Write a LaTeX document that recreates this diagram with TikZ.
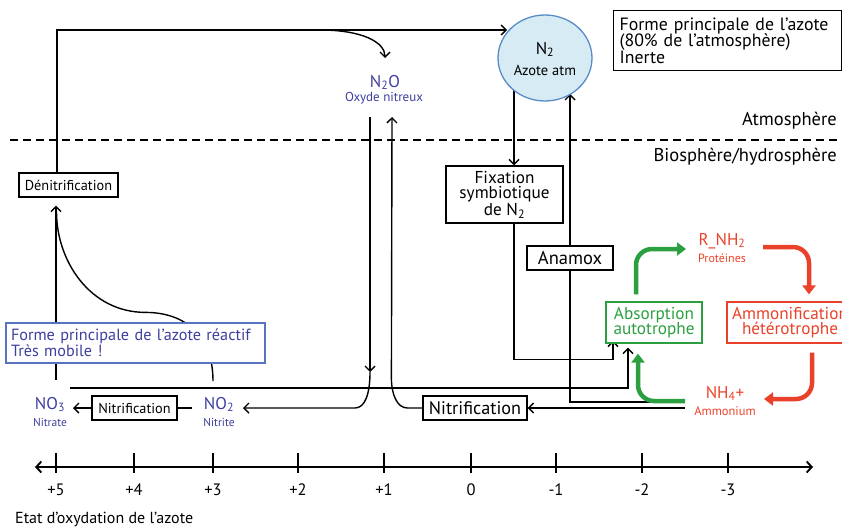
\documentclass[tikz,border=0pt]{standalone}
\usepackage{fontspec}
\setmainfont{PT Sans}
\usetikzlibrary{arrows.meta,calc,shapes.geometric}
\pgfdeclarelayer{bg}
\pgfsetlayers{bg,main}
\definecolor{nblue}{RGB}{62,62,160}
\definecolor{bbord}{RGB}{88,114,196}
\definecolor{gr}{RGB}{44,160,64}
\definecolor{rd}{RGB}{234,66,42}
\definecolor{cfill}{RGB}{214,235,243}
\definecolor{cbord}{RGB}{88,140,200}
\tikzset{
  fa/.style={font=\fontsize{17}{15}\selectfont},
  fb/.style={font=\fontsize{18.5}{16.5}\selectfont},
  fc/.style={font=\fontsize{14.3}{14}\selectfont},
  fd/.style={font=\fontsize{11.5}{12}\selectfont},
  ftick/.style={font=\fontsize{16.5}{16}\selectfont},
  box/.style={draw, line width=1.2pt, fill=white, inner sep=0pt},
  line/.style={line width=1.4pt},
  arr/.style={line width=1.4pt, -{Straight Barb[length=5pt,width=10pt]}},
  barr/.style={line width=1.9pt, {Straight Barb[length=5pt,width=11pt]}-{Straight Barb[length=5pt,width=11pt]}},
  garr/.style={draw=gr, line width=4.5pt, rounded corners=16pt, -{Triangle[length=9pt,width=13pt]}},
  rarr/.style={draw=rd, line width=4.5pt, rounded corners=16pt, -{Triangle[length=9pt,width=13pt]}},
}
\begin{document}
\begin{tikzpicture}[x=1pt,y=-1pt]
\useasboundingbox (0,0) rectangle (842,527);
\clip (0,0) rectangle (842,527);

% atmosphere / biosphere boundary
\draw[line width=1.4pt, dash pattern=on 8pt off 5pt] (10,140) -- (838,140);
\node[fb, anchor=east, inner xsep=0pt] (atm) at (837,121) {Atmosphère};
\node[fb, anchor=east, inner xsep=0pt] (bio) at (837,157) {Biosphère/hydrosphère};

% dinitrogen reservoir
\node[ellipse, draw=cbord, fill=cfill, line width=1.3pt, minimum width=94pt, minimum height=86pt, inner sep=0pt] (n2) at (545,58) {};
\node[fa, anchor=base] (n2f) at (545,54) {N\textsubscript{2}};
\node[font=\fontsize{14.5}{14}\selectfont, anchor=base] (n2n) at (545,75) {Azote atm};
\node[box, anchor=north west, text width=216pt, align=left, minimum height=60pt, inner xsep=6pt, font=\fontsize{17.8}{16.5}\selectfont] (info) at (613,10) {Forme principale de l’azote\\(80\% de l’atmosphère)\\Inerte};

% nitrogen species
\node[fa, nblue, anchor=base] (n2o) at (385,87) {N\textsubscript{2}O};
\node[font=\fontsize{13}{13}\selectfont, nblue, anchor=base] (n2on) at (384,101) {Oxyde nitreux};
\node[fa, nblue, anchor=base] (no3) at (50,409) {NO\textsubscript{3}};
\node[fd, nblue, anchor=base] (no3n) at (50,426) {Nitrate};
\node[fa, nblue, anchor=base] (no2) at (219,409) {NO\textsubscript{2}};
\node[fd, nblue, anchor=base] (no2n) at (219,426) {Nitrite};
\node[fa, rd, anchor=base] (rnh2) at (722,245) {R\_NH\textsubscript{2}};
\node[font=\fontsize{12}{12}\selectfont, rd, anchor=base] (rnh2n) at (722,262) {Protéines};
\node[fa, rd, anchor=base] (nh4) at (725,398) {NH\textsubscript{4}+};
\node[font=\fontsize{12.5}{12}\selectfont, rd, anchor=base] (nh4n) at (725,415) {Ammonium};

% process boxes
\node[box, fc, minimum width=99pt, minimum height=24pt] (den) at (68.5,185) {Dénitrification};
\node[box, minimum width=117pt, minimum height=57pt, align=center, font=\fontsize{17.2}{15.5}\selectfont] (fix) at (504.5,194.5) {Fixation\\symbiotique\\de N\textsubscript{2}};
\node[box, fb, minimum width=86pt, minimum height=24pt] (anamox) at (570,258) {Anamox};
\node[box, draw=gr, text=gr, minimum width=96pt, minimum height=41pt, align=center, font=\fontsize{17.2}{15.5}\selectfont] (absorb) at (654,322.5) {Absorption\\autotrophe};
\node[box, draw=rd, text=rd, minimum width=126pt, minimum height=41pt, align=center, font=\fontsize{17.2}{15.5}\selectfont] (ammon) at (790,322.5) {Ammonification\\hétérotrophe};
\node[box, fc, minimum width=85pt, minimum height=24pt] (nits) at (134.5,408) {Nitrification};
\node[box, minimum width=104pt, minimum height=24pt, font=\fontsize{18.2}{16}\selectfont] (nitb) at (475,408) {Nitrification};
\node[draw=bbord, fill=white, line width=1.2pt, minimum width=259pt, minimum height=40pt, text width=249pt, inner xsep=5pt, align=left, text=nblue, font=\fontsize{16.2}{14.5}\selectfont] (react) at (135.5,343) {Forme principale de l’azote réactif\\Très mobile !};

\begin{pgfonlayer}{bg}
% denitrification: up and over to the atmosphere
\draw[arr] ([xshift=-11.5pt]den.north) |- ($(n2.center)+(-38,-28)$);
\draw[arr] ($(n2.center)+(-225,-28)$) .. controls +(42,0) and +(0,-16) .. ($(n2o.base)+(0,-29)$);
% nitrate and nitrite feeding denitrification
\draw[arr] ($(no3.base)+(6,-29)$) -- ($(den.south)+(-12.5,8)$);
\draw[line] ($(no2.base)+(-6,-28)$) .. controls +(0,-45) and +(40,0) .. ($(react.north)+(10,-10)$) .. controls +(-55,0) and +(0,50) .. ($(den.south)+(-12,14)$);
% nitrification chain
\draw[line] ($(no2.base)+(-27,-1)$) -- (nits.east);
\draw[arr] (nits.west) -- ($(no3.base)+(23,-1)$);
\draw[arr] ($(nh4.base)+(-40,10)$) -- (nitb.east);
\draw[arr] (nitb.west) -- ++(-15,0) .. controls +(-10,0) and +(0,17) .. ++(-16,-30) -- ($(n2o.base)+(7,30)$);
\draw[arr] ($(n2o.base)+(-15,30)$) -- ++(0,255) coordinate (dl);
\draw[arr] (dl) .. controls +(0,22) and +(10,0) .. ++(-15,36) -- ($(no2.base)+(24,-1)$);
% fixation and anammox
\draw[arr] ($(n2.center)+(-31,32)$) -- ([xshift=9.5pt]fix.north);
\draw[arr] ([xshift=9.5pt]fix.south) -- ++(0,136) -| ($(absorb.south)+(-41,-3)$);
\draw[arr] ($(nh4.base)+(-40,4)$) -| (anamox.center) -- ($(n2.center)+(25,36)$);
% nitrate uptake
\draw[arr] ($(no3.base)+(20,-21)$) -| ($(absorb.south)+(-26,4)$);
\end{pgfonlayer}

% organic nitrogen cycle
\draw[garr] ($(nh4.base)+(-40,3)$) -| ($(absorb.south)+(-16,10)$);
\draw[garr] ($(absorb.north)+(-18,-7)$) |- ($(rnh2.base)+(-36,4)$);
\draw[rarr] ($(rnh2.base)+(41,2)$) -| ($(ammon.north)+(19,-7)$);
\draw[rarr] ($(ammon.south)+(22,9)$) |- ($(nh4.base)+(39,1)$);

% oxidation-state axis
\draw[barr] (35,467) -- (813,467);
\foreach \x/\l [count=\i] in {56/+5,134/+4,213/+3,298/+2,384/+1,471/0,556/-1,642/-2,728/-3} {
  \draw[line, line width=1.5pt] (\x,453) -- (\x,473);
  \node[ftick] (tk\i) at (\x,490) {\l};
}
\node[font=\fontsize{16}{16}\selectfont, anchor=base west, inner xsep=0pt] (axl) at (15,523) {Etat d’oxydation de l’azote};
\end{tikzpicture}
\end{document}
